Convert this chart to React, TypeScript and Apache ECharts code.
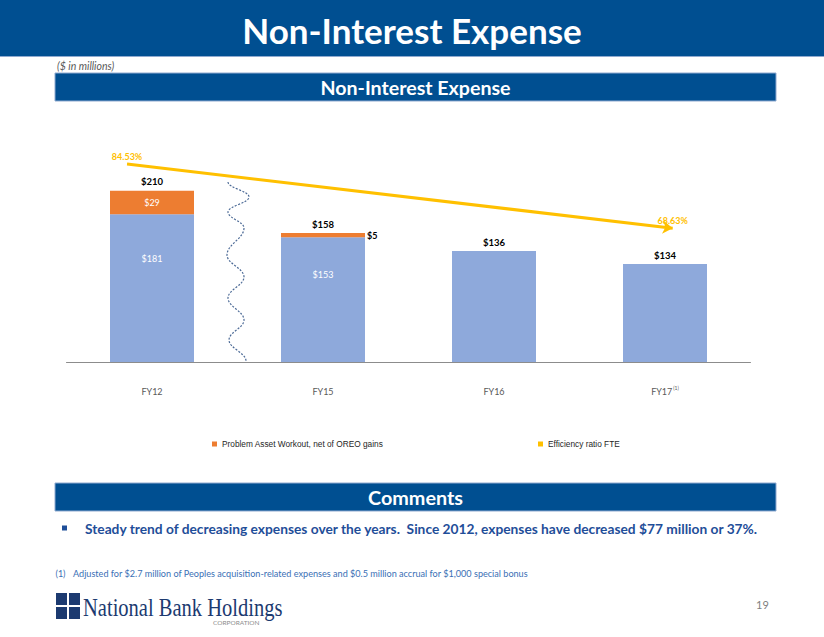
import React, { useEffect, useRef } from "react";
import * as echarts from "echarts";

// ---- data ----
const categories = ["FY12", "FY15", "FY16", "FY17"];
const baseExpense = [181, 153, 136, 120];
const problemAssetWorkout = [29, 5, 0, 0];
const totalLabels = [210, 158, 136, 134];
const efficiencyRatio = [84.53, 68.63];
const footnotedCategories = ["FY17"];

// ---- style constants ----
const BLUE_BANNER = "#004F91";
const BAR_BLUE = "#8EA9DB";
const BAR_ORANGE = "#ED7D31";
const YELLOW = "#FFC000";
// where the trend arrow starts / ends along the category band (in category units)
const ARROW_X = [0.354, 3.545];

const WAVE_D =
  "M228,182 C228,188 249,191 249,197 C249,203 228,206 228,212 C228,218.4 244,221.6 244,228 " +
  "C244,238.8 227,244.2 227,255 C227,263.8 244,268.2 244,277 C244,285.4 228,289.6 228,298 " +
  "C228,306.8 244,311.2 244,320 C244,328 229,332 229,340 C229,348.4 246,352.6 246,361";

echarts.graphic.registerShape("wave", echarts.graphic.extendPath(WAVE_D, {}));

export default function App() {
  const ref = useRef<HTMLDivElement>(null);

  useEffect(() => {
    if (!ref.current) return;
    const chart = echarts.init(ref.current, null, { renderer: "svg" });

    const lineData = efficiencyRatio.map((v, i) => [ARROW_X[i], v]);

    const option: any = {
      animation: false,
      backgroundColor: "#ffffff",
      grid: { left: 66.5, right: 73.5, top: 158, bottom: 275, containLabel: false },
      xAxis: [
        {
          type: "category",
          data: categories,
          axisLine: { lineStyle: { color: "#8C8C8C", width: 1 } },
          axisTick: { show: false },
          axisLabel: {
            margin: 23,
            fontSize: 9,
            color: "#595959",
            fontFamily: "Lato",
            formatter: (v: string) =>
              footnotedCategories.includes(v) ? `{a|${v}}{sup|(1)}` : `{a|${v}}`,
            rich: {
              a: { fontSize: 9, color: "#595959", fontFamily: "Lato", lineHeight: 12, verticalAlign: "middle" },
              sup: { fontSize: 5, color: "#595959", fontFamily: "Lato", lineHeight: 12, verticalAlign: "top", padding: [0, 0, 0, 1] },
            },
          },
        },
        { type: "value", min: 0, max: 4, show: false },
      ],
      yAxis: [
        { type: "value", min: 0, max: 250, show: false },
        { type: "value", min: 35.57, max: 86.01, show: false },
      ],
      legend: [
        {
          data: [{ name: "Problem Asset Workout, net of OREO gains", icon: "rect" }],
          left: 207,
          top: 435,
          itemWidth: 5,
          itemHeight: 5,
          selectedMode: false,
          textStyle: { fontSize: 8.3, color: "#262626", fontFamily: "Liberation Sans" },
        },
        {
          data: [{ name: "Efficiency ratio FTE", icon: "rect" }],
          left: 533,
          top: 435,
          itemWidth: 5,
          itemHeight: 5,
          selectedMode: false,
          textStyle: { fontSize: 8.3, color: "#262626", fontFamily: "Liberation Sans" },
        },
      ],
      series: [
        {
          name: "Non-Interest Expense",
          type: "bar",
          stack: "exp",
          barWidth: 84,
          itemStyle: { color: BAR_BLUE },
          data: baseExpense.map((v, i) => ({
            value: v,
            label: {
              show: i < 2,
              position: ["50%", "30%"],
              align: "center",
              verticalAlign: "middle",
              color: "#ffffff",
              fontSize: 9,
              fontFamily: "Lato",
              formatter: "${c}",
            },
          })),
        },
        {
          name: "Problem Asset Workout, net of OREO gains",
          type: "bar",
          stack: "exp",
          barWidth: 84,
          itemStyle: { color: BAR_ORANGE },
          data: problemAssetWorkout.map((v, i) => ({
            value: v,
            label:
              i === 0
                ? { show: true, position: "inside", color: "#ffffff", fontSize: 9, fontFamily: "Lato", formatter: "${c}" }
                : i === 1
                ? { show: true, position: "right", distance: 2, color: "#000000", fontWeight: "bold", fontSize: 9, fontFamily: "Lato", formatter: "${c}" }
                : { show: false },
          })),
        },
        {
          name: "Total",
          type: "bar",
          stack: "exp",
          barWidth: 84,
          itemStyle: { color: "rgba(0,0,0,0)" },
          data: categories.map(() => 0),
          label: {
            show: true,
            position: "top",
            distance: 4,
            color: "#000000",
            fontWeight: "bold",
            fontSize: 9.5,
            fontFamily: "Lato",
            formatter: (p: any) => "$" + totalLabels[p.dataIndex],
          },
        },
        {
          name: "Efficiency ratio FTE",
          type: "line",
          xAxisIndex: 1,
          yAxisIndex: 1,
          data: lineData,
          symbol: "circle",
          symbolSize: 0.1,
          itemStyle: { color: YELLOW },
          lineStyle: { width: 0, opacity: 0 },
          label: {
            show: true,
            position: "top",
            distance: 3,
            color: YELLOW,
            fontWeight: "bold",
            fontSize: 9,
            fontFamily: "Lato",
            formatter: (p: any) => p.value[1].toFixed(2) + "%",
          },
          markLine: {
            silent: true,
            symbol: ["none", "arrow"],
            symbolSize: 10,
            label: { show: false },
            lineStyle: { color: YELLOW, width: 3, type: "solid" },
            emphasis: { disabled: true },
            data: [[{ coord: lineData[0] }, { coord: lineData[1] }]],
          },
        },
      ],
      graphic: [
        { type: "rect", shape: { x: 0, y: 0, width: 824, height: 56 }, style: { fill: BLUE_BANNER } },
        { type: "line", shape: { x1: 0, y1: 56.5, x2: 824, y2: 56.5 }, style: { stroke: "#8FAAD0", lineWidth: 1 } },
        {
          type: "text",
          x: 412,
          y: 30,
          style: {
            text: "Non-Interest Expense",
            fill: "#ffffff",
            font: "bold 35px Lato",
            align: "center",
            verticalAlign: "middle",
          },
        },
        {
          type: "text",
          x: 57,
          y: 66,
          style: { text: "($ in millions)", fill: "#595959", font: "italic 10.5px Lato", align: "left", verticalAlign: "middle" },
        },
        { type: "rect", shape: { x: 55, y: 73, width: 721, height: 28 }, style: { fill: BLUE_BANNER, stroke: "#8FAAD0", lineWidth: 1 } },
        {
          type: "text",
          x: 415.5,
          y: 87,
          style: { text: "Non-Interest Expense", fill: "#ffffff", font: "bold 19.6px Lato", align: "center", verticalAlign: "middle" },
        },
        {
          type: "wave",
          x: 0,
          y: 0,
          silent: true,
          style: { stroke: "#4C6A96", fill: "none", lineWidth: 1.2, lineDash: [2, 1.5] },
        },
        { type: "rect", shape: { x: 55, y: 483, width: 721, height: 28 }, style: { fill: BLUE_BANNER, stroke: "#8FAAD0", lineWidth: 1 } },
        {
          type: "text",
          x: 415.5,
          y: 497,
          style: { text: "Comments", fill: "#ffffff", font: "bold 19.8px Lato", align: "center", verticalAlign: "middle" },
        },
        { type: "rect", shape: { x: 62, y: 525.5, width: 5, height: 5 }, style: { fill: "#1F4E99" } },
        {
          type: "text",
          x: 85,
          y: 528,
          style: {
            text: "Steady trend of decreasing expenses over the years.  Since 2012, expenses have decreased $77 million or 37%.",
            fill: "#1F4E99",
            font: "bold 13.75px Lato",
            align: "left",
            verticalAlign: "middle",
          },
        },
        {
          type: "text",
          x: 55.5,
          y: 573,
          style: { text: "(1)", fill: "#3A6FB5", font: "9px Lato", align: "left", verticalAlign: "middle" },
        },
        {
          type: "text",
          x: 73,
          y: 573,
          style: {
            text: "Adjusted for $2.7 million of Peoples acquisition-related expenses and $0.5 million accrual for $1,000 special bonus",
            fill: "#3A6FB5",
            font: "9.1px Lato",
            align: "left",
            verticalAlign: "middle",
          },
        },
        { type: "rect", shape: { x: 56, y: 593, width: 11, height: 12 }, style: { fill: "#1C3A70" } },
        { type: "rect", shape: { x: 69, y: 593, width: 11, height: 12 }, style: { fill: "#1C3A70" } },
        { type: "rect", shape: { x: 56, y: 607, width: 11, height: 12 }, style: { fill: "#1C3A70" } },
        { type: "rect", shape: { x: 69, y: 607, width: 11, height: 12 }, style: { fill: "#1C3A70" } },
        {
          type: "text",
          x: 83,
          y: 607,
          scaleX: 0.79,
          style: {
            text: "National Bank Holdings",
            fill: "#1C3A70",
            font: "26px 'Liberation Serif'",
            align: "left",
            verticalAlign: "middle",
          },
        },
        {
          type: "text",
          x: 213,
          y: 622,
          style: { text: "CORPORATION", fill: "#8C8C8C", font: "6.5px Lato", align: "left", verticalAlign: "middle" },
        },
        {
          type: "text",
          x: 756,
          y: 604,
          style: { text: "19", fill: "#7F7F7F", font: "11px Lato", align: "left", verticalAlign: "middle" },
        },
      ],
    };

    chart.setOption(option);
    return () => chart.dispose();
  }, []);

  return (
    <div
      ref={ref}
      style={{ position: "fixed", left: 0, top: 0, width: 824, height: 637, background: "#fff" }}
    />
  );
}
